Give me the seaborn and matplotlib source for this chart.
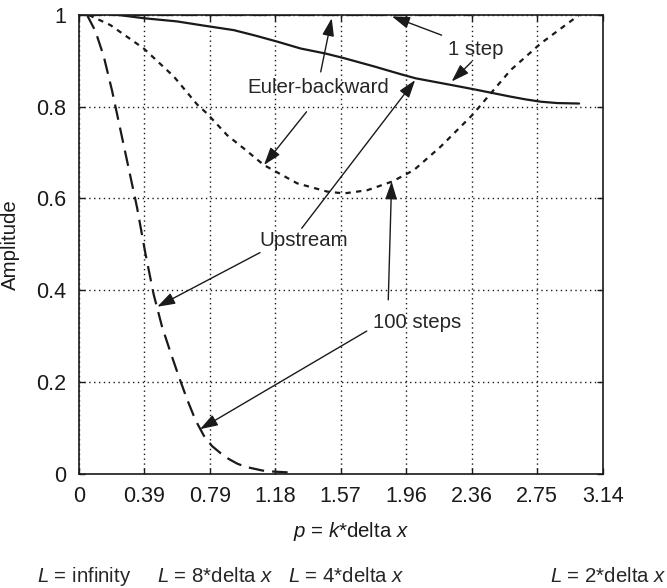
import numpy as np
import pandas as pd
import matplotlib
matplotlib.use("Agg")
import matplotlib.pyplot as plt
import matplotlib.transforms as mtransforms
import seaborn as sns

# ---------------- data ----------------
tick_vals = [0, np.pi/8, np.pi/4, 3*np.pi/8, np.pi/2, 5*np.pi/8, 3*np.pi/4, 7*np.pi/8, np.pi]
tick_labels = ["0", "0.39", "0.79", "1.18", "1.57", "1.96", "2.36", "2.75", "3.14"]
ytick_vals = [0, 0.2, 0.4, 0.6, 0.8, 1.0]
ytick_labels = ["0", "0.2", "0.4", "0.6", "0.8", "1"]

# Euler-backward, 1 step (solid)
eb1_x = [0.24, 0.39, 0.59, 0.73, 0.93, 1.06, 1.19, 1.33, 1.48, 1.59, 1.77, 1.93, 2.02,
         2.24, 2.37, 2.48, 2.59, 2.68, 2.77, 2.87, 3.00]
eb1_y = [1.000, 0.993, 0.986, 0.978, 0.967, 0.955, 0.942, 0.927, 0.916, 0.906, 0.888,
         0.871, 0.862, 0.847, 0.838, 0.830, 0.822, 0.816, 0.811, 0.808, 0.807]

# Upstream, 1 step (short dashes)
up1_x = [0.06, 0.19, 0.39, 0.57, 0.71, 0.77, 0.89, 0.99, 1.11, 1.31, 1.49, 1.59,
         1.73, 1.88, 2.01, 2.17, 2.36, 2.47, 2.59, 2.77, 3.00]
up1_y = [1.000, 0.978, 0.927, 0.866, 0.805, 0.785, 0.738, 0.709, 0.673, 0.633, 0.615,
         0.611, 0.618, 0.637, 0.662, 0.713, 0.782, 0.829, 0.880, 0.938, 1.000]

# Euler-backward, 100 steps (long dashes, flat)
eb100_x = [0.05, 2.36]
eb100_y = [1.0, 1.0]

# Upstream, 100 steps (long dashes)
up100_x = [0.05, 0.10, 0.15, 0.20, 0.25, 0.30, 0.35, 0.40, 0.45, 0.50, 0.55, 0.60,
           0.65, 0.70, 0.75, 0.80, 0.85, 0.90, 0.95, 1.00, 1.05, 1.10, 1.15, 1.20,
           1.25, 1.30]
up100_y = [1.000, 0.965, 0.910, 0.835, 0.750, 0.665, 0.580, 0.480, 0.390, 0.320,
           0.265, 0.212, 0.162, 0.117, 0.083, 0.060, 0.045, 0.032, 0.022, 0.015,
           0.011, 0.007, 0.005, 0.004, 0.003, 0.003]

bottom_labels = ["$L$ = infinity", "$L$ = 8*delta $x$", "$L$ = 4*delta $x$", "$L$ = 2*delta $x$"]
bottom_pos = [0, np.pi/4, np.pi/2, np.pi]

# ---------------- style ----------------
sns.set_theme(style="ticks")
plt.rcParams["font.family"] = ["Liberation Sans", "DejaVu Sans"]
plt.rcParams["mathtext.fontset"] = "custom"
plt.rcParams["mathtext.rm"] = "Liberation Sans"
plt.rcParams["mathtext.it"] = "Liberation Sans:italic"
FS = 14.7
TFS = 15.5

fig = plt.figure(figsize=(6.67, 5.88), dpi=100)
ax = fig.add_axes([78.7/667, 1 - 473.7/588, 524/667, 458.7/588])

lw = 1.6
sns.lineplot(x=eb1_x, y=eb1_y, ax=ax, color="k", lw=lw, sort=False, estimator=None)
sns.lineplot(x=up1_x, y=up1_y, ax=ax, color="k", lw=lw, sort=False, estimator=None,
             linestyle=(0, (2.4, 2.4)))
sns.lineplot(x=eb100_x, y=eb100_y, ax=ax, color="k", lw=lw, sort=False, estimator=None,
             linestyle=(0, (7.0, 3.6)))
sns.lineplot(x=up100_x, y=up100_y, ax=ax, color="k", lw=lw, sort=False, estimator=None,
             linestyle=(0, (7.0, 3.6)))

ax.set_xlim(0, np.pi)
ax.set_ylim(0, 1)
ax.set_xticks(tick_vals)
ax.set_xticklabels(tick_labels, fontsize=TFS)
ax.set_yticks(ytick_vals)
ax.set_yticklabels(ytick_labels, fontsize=TFS)
ax.tick_params(direction="in", length=4.5, width=1, top=True, right=True,
               colors="k", pad=9)
ax.grid(True, color="k", linestyle=(0, (1, 2.5)), lw=1)
for s in ax.spines.values():
    s.set_color("k")
    s.set_linewidth(1.2)
    s.set_visible(True)

ax.set_xlabel("$p$ = $k$*delta $x$", fontsize=FS, color="k")
ax.xaxis.set_label_coords(0.52, -0.10)
ax.set_ylabel("Amplitude", fontsize=FS, color="k")
ax.yaxis.set_label_coords(-0.112, 0.5)

# ---------------- annotations ----------------
ap = dict(arrowstyle="-|>,head_length=0.9,head_width=0.3", color="k", lw=1,
          shrinkA=0, shrinkB=0)

def arrow(tail, tip):
    ax.annotate("", xy=tip, xytext=tail, arrowprops=ap)

ax.text(2.378, 0.924, "1 step", fontsize=FS, ha="center", va="center")
arrow((2.176, 0.956), (1.878, 0.997))
arrow((2.356, 0.898), (2.236, 0.855))

ax.text(1.436, 0.841, "Euler-backward", fontsize=FS, ha="center", va="center")
arrow((1.451, 0.876), (1.517, 0.993))
arrow((1.366, 0.789), (1.111, 0.673))

ax.text(1.347, 0.509, "Upstream", fontsize=FS, ha="center", va="center")
arrow((1.337, 0.535), (2.017, 0.858))
arrow((1.087, 0.482), (0.471, 0.364))

ax.text(2.026, 0.329, "100 steps", fontsize=FS, ha="center", va="center")
arrow((1.856, 0.379), (1.876, 0.637))
arrow((1.727, 0.311), (0.727, 0.097))

trans = mtransforms.blended_transform_factory(ax.transData, fig.transFigure)
for lab, xp in zip(bottom_labels, bottom_pos):
    ax.annotate(lab, xy=(xp, 1 - 577/588), xycoords=trans, xytext=(4, 0),
                textcoords="offset points", ha="center", va="center",
                fontsize=FS, annotation_clip=False)

fig.savefig("out.png", dpi=100)
